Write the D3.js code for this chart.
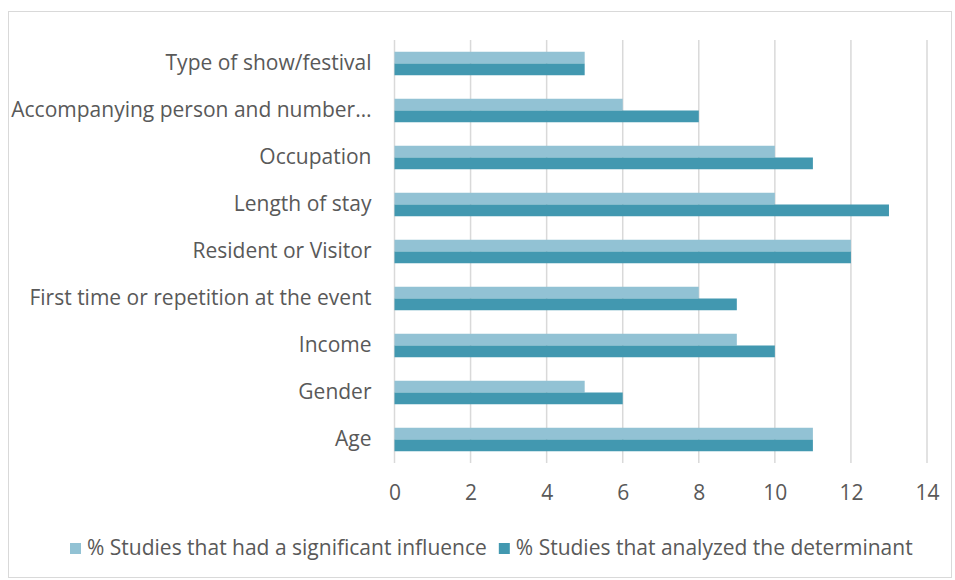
<!DOCTYPE html>
<html>
<head>
<meta charset="utf-8">
<script src="https://cdn.jsdelivr.net/npm/d3@7"></script>
<style>
body { margin: 0; background: #fff; }
svg text { font-family: "Open Sans", "Noto Sans", sans-serif; fill: #595959; }
</style>
</head>
<body>
<svg width="955" height="580"></svg>
<script>
var categories = ["Type of show/festival", "Accompanying person and number\u2026", "Occupation", "Length of stay",
	"Resident or Visitor", "First time or repetition at the event", "Income", "Gender", "Age"];
var influence = [5, 6, 10, 10, 12, 8, 9, 5, 11];
var analyzed = [5, 8, 11, 13, 12, 9, 10, 6, 11];
var seriesNames = ["% Studies that had a significant influence", "% Studies that analyzed the determinant"];
var colors = ["#92c2d4", "#4298b0"];
var ticks = [0, 2, 4, 6, 8, 10, 12, 14];

var svg = d3.select("svg"),
	margin = {top: 40, left: 394.5, right: 28, bottom: 117},
	width = 955 - margin.left - margin.right,
	height = 580 - margin.top - margin.bottom,
	fontSize = "21px";

// outer border
svg.append("rect")
	.attr("x", 8.5).attr("y", 11.5)
	.attr("width", 943).attr("height", 566)
	.attr("fill", "none")
	.attr("stroke", "#d9d9d9");

var x = d3.scaleLinear().domain([0, 14]).range([0, width]);
var y = d3.scaleBand().domain(categories).range([0, height]).paddingInner(0.5).paddingOuter(0.25);
var inner = d3.scaleBand().domain([0, 1]).range([0, y.bandwidth()]);

var g = svg.append("g")
	.attr("transform", "translate(" + margin.left + "," + margin.top + ")");

// gridlines
g.selectAll(".grid")
	.data(ticks)
	.enter().append("line")
	.attr("x1", function(d){ return x(d); })
	.attr("x2", function(d){ return x(d); })
	.attr("y1", 0)
	.attr("y2", height)
	.attr("stroke", "#d9d9d9")
	.attr("stroke-width", 1.5);

var rows = g.selectAll(".row")
	.data(categories)
	.enter().append("g")
	.attr("transform", function(d){ return "translate(0," + y(d) + ")"; });

rows.append("rect")
	.attr("y", inner(0))
	.attr("height", inner.bandwidth())
	.attr("width", function(d, i){ return x(influence[i]); })
	.attr("fill", colors[0]);

rows.append("rect")
	.attr("y", inner(1))
	.attr("height", inner.bandwidth())
	.attr("width", function(d, i){ return x(analyzed[i]); })
	.attr("fill", colors[1]);

// y labels
var yAxis = g.append("g")
	.call(d3.axisLeft(y).tickSize(0).tickPadding(23));
yAxis.select(".domain").remove();
yAxis.selectAll("text").style("font-size", fontSize);

// x labels
var xAxis = g.append("g")
	.attr("transform", "translate(0," + height + ")")
	.call(d3.axisBottom(x).tickValues(ticks).tickSize(0).tickPadding(22));
xAxis.select(".domain").remove();
xAxis.selectAll("text").style("font-size", fontSize);

// legend
var legend = svg.append("g").attr("transform", "translate(70,548)");
var lx = 0;
seriesNames.forEach(function(name, i){
	var item = legend.append("g").attr("transform", "translate(" + lx + ",0)");
	item.append("rect")
		.attr("x", 0).attr("y", -5)
		.attr("width", 11).attr("height", 11)
		.attr("fill", colors[i]);
	var t = item.append("text")
		.attr("x", 17).attr("y", 0)
		.attr("dy", "0.35em")
		.style("font-size", fontSize)
		.text(name);
	lx += 17 + t.node().getComputedTextLength() + 12;
});
</script>
</body>
</html>
